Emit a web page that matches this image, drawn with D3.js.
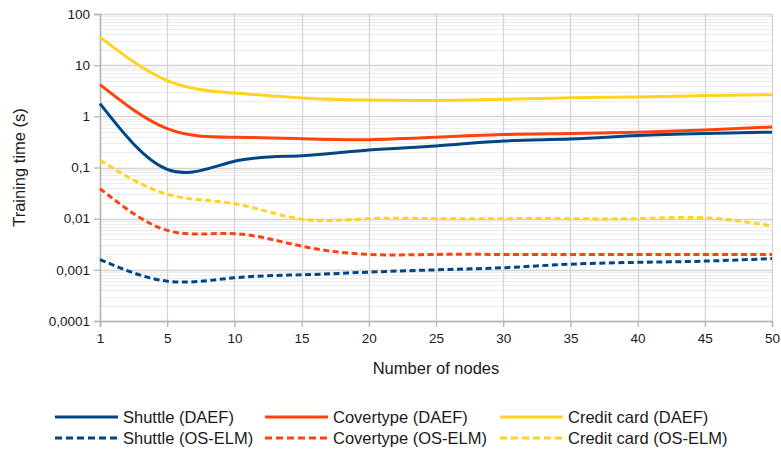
<!DOCTYPE html>
<html>
<head>
<meta charset="utf-8">
<script src="https://cdn.jsdelivr.net/npm/d3@7"></script>
<style>
  body { margin: 0; background: #fff; }
  svg { font-family: "Liberation Sans", Arial, sans-serif; }
</style>
</head>
<body>
<svg id="chart" width="781" height="450"></svg>
<script>
// categories on the x axis
var nodes = [1, 5, 10, 15, 20, 25, 30, 35, 40, 45, 50];

// training times (s)
var shuttleDaef    = [1.77, 0.092, 0.132, 0.17, 0.22, 0.263, 0.33, 0.36, 0.42, 0.46, 0.49];
var covertypeDaef  = [4.16, 0.575, 0.39, 0.365, 0.35, 0.39, 0.44, 0.46, 0.49, 0.54, 0.62];
var creditDaef     = [35.4, 5.0, 2.85, 2.28, 2.08, 2.05, 2.15, 2.32, 2.38, 2.55, 2.65];
var shuttleOsElm   = [0.00159, 0.0006, 0.0007, 0.0008, 0.0009, 0.001, 0.0011, 0.00129, 0.0014, 0.00148, 0.00166];
var covertypeOsElm = [0.0387, 0.0059, 0.0051, 0.0029, 0.002, 0.002, 0.002, 0.002, 0.002, 0.002, 0.002];
var creditOsElm    = [0.138, 0.030, 0.0197, 0.0098, 0.01, 0.01, 0.01, 0.01, 0.01, 0.0104, 0.0072];

var yTicks = [0.0001, 0.001, 0.01, 0.1, 1, 10, 100];
var yTickLabels = ["0,0001", "0,001", "0,01", "0,1", "1", "10", "100"];

var series = [
  {name: "Shuttle (DAEF)", values: shuttleDaef, color: "#004586", dashed: false},
  {name: "Covertype (DAEF)", values: covertypeDaef, color: "#ff420e", dashed: false},
  {name: "Credit card (DAEF)", values: creditDaef, color: "#ffd320", dashed: false},
  {name: "Shuttle (OS-ELM)", values: shuttleOsElm, color: "#004586", dashed: true},
  {name: "Covertype (OS-ELM)", values: covertypeOsElm, color: "#ff420e", dashed: true},
  {name: "Credit card (OS-ELM)", values: creditOsElm, color: "#ffd320", dashed: true}
];

var svg = d3.select("#chart"),
    margin = {top: 14, right: 9, bottom: 129, left: 100},
    width = +svg.attr("width") - margin.left - margin.right,
    height = +svg.attr("height") - margin.top - margin.bottom;

var g = svg.append("g")
    .attr("transform", "translate(" + margin.left + "," + margin.top + ")");

var x = d3.scalePoint()
    .domain(nodes)
    .range([0, width]);

var y = d3.scaleLog()
    .domain([0.0001, 100])
    .range([height, 0]);

// minor gridlines
var minor = [];
yTicks.slice(0, -1).forEach(function (t) {
    for (var k = 2; k <= 9; k++) minor.push(t * k);
});
g.append("g")
    .selectAll("line")
    .data(minor)
    .enter()
    .append("line")
    .attr("x1", 0).attr("x2", width)
    .attr("y1", function (d) { return Math.round(y(d)) + 0.5; })
    .attr("y2", function (d) { return Math.round(y(d)) + 0.5; })
    .attr("stroke", "#ececec");

// major gridlines
g.append("g")
    .selectAll("line")
    .data(yTicks)
    .enter()
    .append("line")
    .attr("x1", 0).attr("x2", width)
    .attr("y1", function (d) { return Math.round(y(d)) + 0.5; })
    .attr("y2", function (d) { return Math.round(y(d)) + 0.5; })
    .attr("stroke", "#d4d4d4")
    .attr("stroke-width", 1.3);

g.append("g")
    .selectAll("line")
    .data(nodes)
    .enter()
    .append("line")
    .attr("x1", function (d) { return Math.round(x(d)) + 0.5; })
    .attr("x2", function (d) { return Math.round(x(d)) + 0.5; })
    .attr("y1", 0).attr("y2", height)
    .attr("stroke", "#d4d4d4")
    .attr("stroke-width", 1.3);

// axes
var yAxis = g.append("g")
    .call(d3.axisLeft(y).tickValues(yTicks)
        .tickFormat(function (d, i) { return yTickLabels[i]; })
        .tickSize(6).tickPadding(4));
var xAxis = g.append("g")
    .attr("transform", "translate(0," + height + ")")
    .call(d3.axisBottom(x).tickSize(6).tickPadding(6));

[xAxis, yAxis].forEach(function (a) {
    a.select(".domain").attr("stroke", "#b3b3b3").attr("stroke-width", 1.5);
    a.selectAll(".tick line").attr("stroke", "#b3b3b3").attr("stroke-width", 1.3);
    a.selectAll("text")
        .attr("font-family", "Liberation Sans, Arial, sans-serif")
        .attr("font-size", 13.5)
        .attr("fill", "#1a1a1a");
});

// lines
var line = d3.line()
    .x(function (d, i) { return x(nodes[i]); })
    .y(function (d) { return y(d); })
    .curve(d3.curveNatural);

g.append("g")
    .selectAll("path")
    .data(series.slice().reverse())
    .enter()
    .append("path")
    .attr("d", function (d) { return line(d.values); })
    .attr("fill", "none")
    .attr("stroke", function (d) { return d.color; })
    .attr("stroke-width", 3)
    .attr("stroke-dasharray", function (d) { return d.dashed ? "6,3.5" : null; });

// axis titles
svg.append("text")
    .attr("x", margin.left + width / 2)
    .attr("y", 374)
    .attr("text-anchor", "middle")
    .attr("font-size", 16.5)
    .attr("fill", "#1a1a1a")
    .text("Number of nodes");

svg.append("text")
    .attr("transform", "translate(25," + (margin.top + height / 2) + ") rotate(-90)")
    .attr("text-anchor", "middle")
    .attr("font-size", 16.5)
    .attr("fill", "#1a1a1a")
    .text("Training time (s)");

// legend
var legendX = [55, 265, 500];
var legendY = [417, 438];
var legend = svg.append("g")
    .selectAll("g")
    .data(series)
    .enter()
    .append("g")
    .attr("transform", function (d, i) {
        return "translate(" + legendX[i % 3] + "," + legendY[Math.floor(i / 3)] + ")";
    });

legend.append("line")
    .attr("x1", 0).attr("x2", 63)
    .attr("stroke", function (d) { return d.color; })
    .attr("stroke-width", 3)
    .attr("stroke-dasharray", function (d) { return d.dashed ? "7,4" : null; });

legend.append("text")
    .attr("x", 68)
    .attr("dy", "0.35em")
    .attr("font-size", 16.5)
    .attr("fill", "#1a1a1a")
    .text(function (d) { return d.name; });
</script>
</body>
</html>
